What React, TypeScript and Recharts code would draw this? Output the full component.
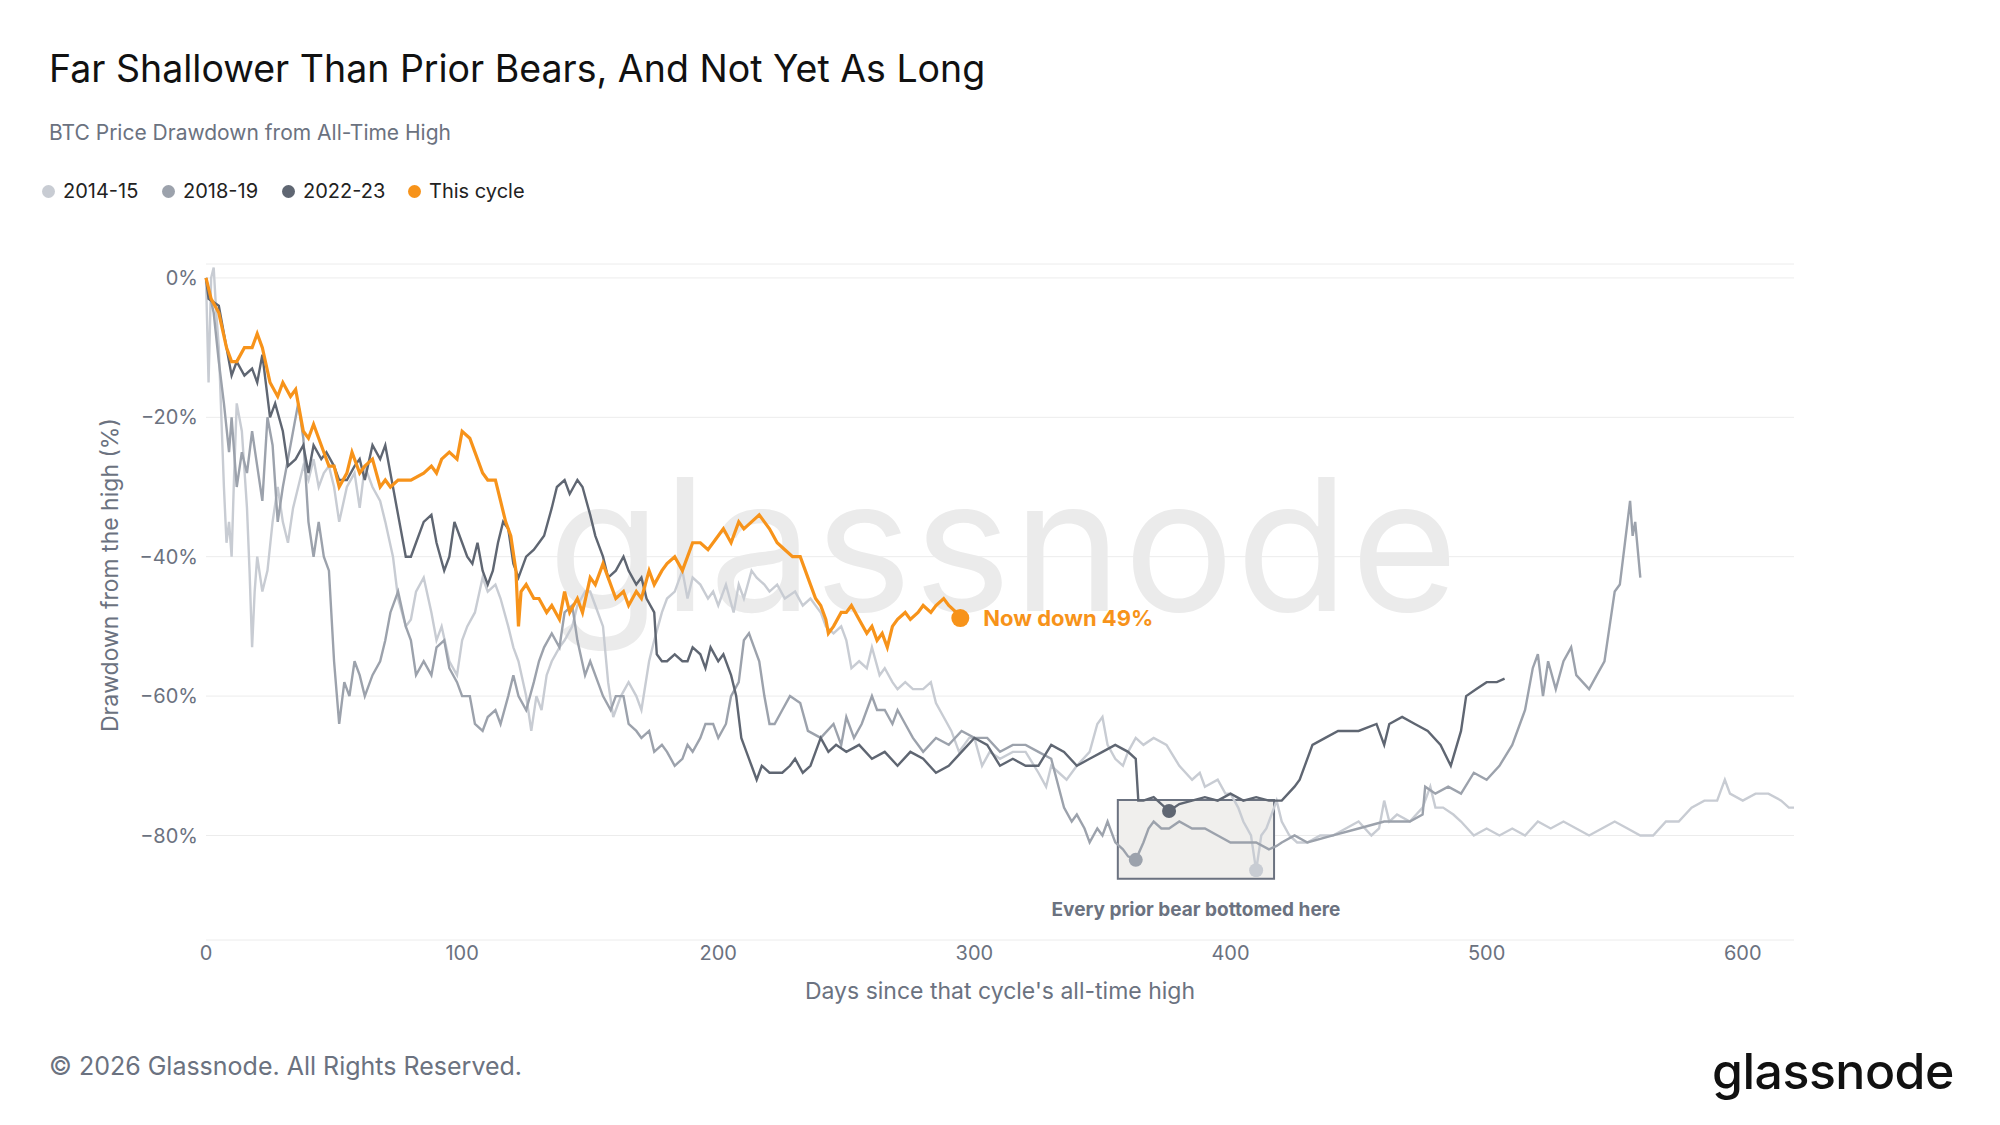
import React from "react";
import { LineChart, Line, XAxis, YAxis, CartesianGrid, ReferenceArea, ReferenceDot } from "recharts";

const days2014 = [0,1,2,3,4,5,6,7,8,9,10,11,12,14,16,17,18,19,20,22,24,26,28,30,32,34,36,38,40,42,44,46,48,50,52,55,58,60,62,65,68,70,73,75,78,80,82,85,88,90,92,95,98,100,102,105,108,110,113,115,118,120,122,125,127,129,131,133,135,138,140,143,145,148,150,152,155,157,159,162,165,168,170,173,175,178,180,183,186,188,190,193,196,198,200,203,206,208,210,213,215,218,220,223,226,230,233,236,240,242,245,248,250,252,255,258,260,263,265,268,270,273,276,280,283,285,288,291,294,296,298,300,303,306,310,315,320,325,328,330,333,336,340,345,348,350,352,355,358,360,363,366,370,375,380,385,388,390,395,398,400,403,405,408,410,412,414,416,418,420,423,426,430,435,440,445,450,455,458,460,462,465,470,475,478,480,483,487,490,495,500,505,510,515,520,525,530,535,540,545,550,555,560,565,570,575,580,585,590,593,595,600,605,610,615,618,620];
const vals2014 = [0,-15,0,1.5,-5,-10,-20,-30,-38,-35,-40,-28,-18,-22,-33,-42,-53,-45,-40,-45,-42,-35,-30,-35,-38,-33,-30,-27,-29,-26,-30,-28,-27,-30,-35,-30,-28,-33,-27,-30,-32,-35,-40,-46,-50,-49,-45,-43,-48,-52,-50,-55,-57,-52,-50,-48,-43,-45,-44,-46,-50,-53,-55,-60,-65,-60,-62,-57,-55,-53,-52,-50,-47,-45,-45,-47,-50,-58,-63,-60,-58,-60,-62,-55,-52,-48,-46,-45,-42,-46,-43,-44,-46,-45,-47,-44,-48,-44,-46,-42,-43,-44,-45,-44,-46,-45,-47,-46,-48,-50,-51,-50,-52,-56,-55,-56,-53,-57,-56,-58,-59,-58,-59,-59,-58,-61,-63,-65,-68,-67,-66,-66,-70,-68,-69,-68,-68,-71,-73,-70,-71,-72,-70,-68,-64,-63,-67,-69,-70,-68,-66,-67,-66,-67,-70,-72,-71,-73,-72,-74,-74,-76,-78,-80,-85,-80,-79,-77,-75,-78,-80,-81,-81,-80,-80,-79,-78,-80,-79,-75,-78,-77,-78,-76,-73,-76,-76,-77,-78,-80,-79,-80,-79,-80,-78,-79,-78,-79,-80,-79,-78,-79,-80,-80,-78,-78,-76,-75,-75,-72,-74,-75,-74,-74,-75,-76,-76];

const days2018 = [0,3,5,7,9,10,12,14,16,18,20,22,24,26,28,30,32,34,36,38,40,42,44,46,48,50,52,54,56,58,60,62,65,68,70,72,75,78,80,82,85,88,90,93,95,98,100,103,105,108,110,113,115,118,120,122,125,128,130,132,135,138,140,143,145,148,150,153,155,158,160,163,165,168,170,173,175,178,180,183,186,188,190,193,195,198,200,203,205,208,210,212,214,216,218,220,222,225,228,232,235,240,245,248,250,253,256,260,262,265,268,270,273,276,280,285,290,295,300,305,310,315,320,325,330,335,338,340,343,345,348,350,352,355,358,360,363,366,368,370,373,376,380,385,390,395,400,405,410,415,418,420,425,430,440,450,460,470,475,476,480,485,490,495,500,505,510,515,518,520,522,524,527,530,533,535,540,543,546,548,550,552,554,556,557,558,560];
const vals2018 = [0,-5,-12,-18,-25,-20,-30,-25,-28,-22,-27,-32,-20,-24,-35,-30,-26,-22,-18,-23,-35,-40,-35,-40,-42,-55,-64,-58,-60,-55,-57,-60,-57,-55,-52,-48,-45,-50,-52,-57,-55,-57,-53,-52,-56,-58,-60,-60,-64,-65,-63,-62,-64,-60,-57,-60,-62,-58,-55,-53,-51,-53,-48,-47,-52,-57,-55,-58,-60,-62,-60,-60,-64,-65,-66,-65,-68,-67,-68,-70,-69,-67,-68,-66,-64,-64,-66,-64,-60,-58,-52,-51,-53,-55,-60,-64,-64,-62,-60,-61,-65,-66,-64,-67,-63,-66,-64,-60,-62,-62,-64,-62,-64,-66,-68,-66,-67,-65,-66,-66,-68,-67,-67,-68,-69,-76,-78,-77,-79,-81,-79,-80,-78,-81,-82,-83,-83.5,-81,-79,-78,-79,-79,-78,-79,-79,-80,-81,-81,-81,-82,-81.5,-81,-80,-81,-80,-79,-78,-78,-77,-73,-74,-73,-74,-71,-72,-70,-67,-62,-56,-54,-60,-55,-59,-55,-53,-57,-59,-57,-55,-50,-45,-44,-38,-32,-37,-35,-43];

const days2022 = [0,1,5,8,10,12,15,18,20,22,25,27,30,32,35,38,40,42,45,47,50,52,55,58,60,62,65,68,70,73,76,78,80,82,85,88,90,93,95,97,100,102,104,106,108,110,112,114,116,118,120,122,125,128,130,132,135,137,140,142,145,147,150,152,155,157,160,163,165,168,170,172,175,176,178,180,183,186,188,190,193,195,197,200,202,205,207,209,211,213,215,217,220,225,228,230,233,236,240,243,246,250,255,260,265,270,275,280,285,290,295,300,305,310,315,320,325,330,335,340,345,350,355,360,363,364,366,370,376,380,385,390,395,400,405,410,415,420,425,427,432,437,442,450,457,460,462,467,472,477,482,486,490,492,496,500,504,507];
const vals2022 = [0,-3,-4,-10,-14,-12,-14,-13,-15,-11,-20,-18,-22,-27,-26,-24,-28,-24,-26,-25,-27,-29,-29,-27,-26,-29,-24,-26,-24,-30,-36,-40,-40,-38,-35,-34,-38,-42,-40,-35,-38,-40,-41,-38,-42,-44,-42,-38,-35,-36,-41,-43,-40,-39,-38,-37,-33,-30,-29,-31,-29,-30,-34,-37,-40,-43,-42,-40,-42,-44,-43,-46,-48,-54,-55,-55,-54,-55,-55,-53,-54,-56,-53,-55,-54,-57,-60,-66,-68,-70,-72,-70,-71,-71,-70,-69,-71,-70,-66,-68,-67,-68,-67,-69,-68,-70,-68,-69,-71,-70,-68,-66,-67,-70,-69,-70,-70,-67,-68,-70,-69,-68,-67,-68,-69,-75,-75,-74.5,-76.5,-75.5,-75,-74.5,-75,-74,-75,-74.5,-75,-75,-73,-72,-67,-66,-65,-65,-64,-67,-64,-63,-64,-65,-67,-70,-65,-60,-59,-58,-58,-57.5,-58];

const daysNow = [0,2,5,8,10,12,15,18,20,22,25,28,30,33,35,38,40,42,45,48,50,52,55,57,60,62,65,68,70,72,75,80,85,88,90,92,95,98,100,103,105,108,110,113,115,117,119,121,122,123,125,128,130,133,135,138,140,142,145,147,150,152,155,157,160,163,165,168,170,173,175,178,180,183,186,190,193,196,200,202,205,208,210,213,216,218,220,223,226,229,232,234,236,238,240,242,243,245,248,250,252,255,258,260,262,264,266,268,270,273,275,278,280,283,285,288,290,293,294.5];
const valsNow = [0,-3,-5,-10,-12,-12,-10,-10,-8,-10,-15,-17,-15,-17,-16,-22,-23,-21,-24,-27,-27,-30,-28,-25,-28,-27,-26,-30,-29,-30,-29,-29,-28,-27,-28,-26,-25,-26,-22,-23,-25,-28,-29,-29,-32,-35,-37,-42,-50,-45,-44,-46,-46,-48,-47,-49,-45,-48,-46,-48,-43,-44,-41,-43,-46,-45,-47,-45,-46,-42,-44,-42,-41,-40,-42,-38,-38,-39,-37,-36,-38,-35,-36,-35,-34,-35,-36,-38,-39,-40,-40,-42,-44,-46,-47,-49,-51,-50,-48,-48,-47,-49,-51,-50,-52,-51,-53,-50,-49,-48,-49,-48,-47,-48,-47,-46,-47,-48,-48.8];

const xTicks = [0, 100, 200, 300, 400, 500, 600];
const yTicks = [-80, -60, -40, -20, 0];

const toRows = (d: number[], v: number[]) => d.map((day, i) => ({ day, v: v[i] }));
const s2014 = toRows(days2014, vals2014);
const s2018 = toRows(days2018, vals2018);
const s2022 = toRows(days2022, vals2022);
const sNow = toRows(daysNow, valsNow);

const C14 = "#c8ccd3", C18 = "#9ca2ac", C22 = "#5f6672", CNOW = "#f7931a";
const FONT = "Inter, 'Noto Sans', sans-serif";
const GREY = "#6b7280";

const legend = [
  { label: "2014-15", color: C14, x: 42 },
  { label: "2018-19", color: C18, x: 162 },
  { label: "2022-23", color: C22, x: 282 },
  { label: "This cycle", color: CNOW, x: 408 },
];

export default function App() {
  return (
    <div style={{ position: "absolute", left: 0, top: 0, width: 2000, height: 1125, background: "#fff", fontFamily: FONT, overflow: "hidden" }}>
      <div style={{ position: "absolute", left: 49, top: 46, fontSize: 37.5, color: "#111", fontWeight: 400 }}>
        Far Shallower Than Prior Bears, And Not Yet As Long
      </div>
      <div style={{ position: "absolute", left: 49, top: 120, fontSize: 21, color: GREY }}>
        BTC Price Drawdown from All-Time High
      </div>
      {legend.map((l) => (
        <div key={l.label} style={{ position: "absolute", left: l.x, top: 179, fontSize: 20, color: "#222", display: "flex", alignItems: "center" }}>
          <span style={{ width: 13, height: 13, borderRadius: 7, background: l.color, display: "inline-block", marginRight: 8 }} />
          {l.label}
        </div>
      ))}
      <div style={{ position: "absolute", left: 548, top: 433, fontSize: 184, color: "#ebebeb", fontWeight: 400, letterSpacing: 2 }}>
        glassnode
      </div>
      <div style={{ position: "absolute", left: 0, top: 0 }}>
        <LineChart width={2000} height={1125} margin={{ top: 264, right: 206, bottom: 155, left: 126 }}>
          <CartesianGrid horizontal vertical={false} stroke="#ececec" />
          <XAxis type="number" dataKey="day" domain={[0, 620]} ticks={xTicks} axisLine={false} tickLine={false}
            tick={{ fill: GREY, fontSize: 20, fontFamily: FONT }} height={30} tickMargin={0}
            label={{ value: "Days since that cycle's all-time high", position: "insideBottom", offset: -29, fill: GREY, fontSize: 23, fontFamily: FONT }} />
          <YAxis type="number" domain={[-95, 2]} ticks={yTicks} axisLine={false} tickLine={false} width={80}
            tickFormatter={(v: number) => (v === 0 ? "0%" : `−${Math.abs(v)}%`)}
            tick={{ fill: GREY, fontSize: 20, fontFamily: FONT }}
            label={{ value: "Drawdown from the high (%)", angle: -90, position: "insideLeft", offset: -16, dy: 130, fill: GREY, fontSize: 23, fontFamily: FONT }} />
          <ReferenceArea x1={356} x2={417} y1={-86.2} y2={-74.9} fill="#f0efed" fillOpacity={1} stroke={GREY} strokeWidth={2} />
          <Line data={s2014} dataKey="v" stroke={C14} strokeWidth={2.4} dot={false} isAnimationActive={false} />
          <Line data={s2018} dataKey="v" stroke={C18} strokeWidth={2.4} dot={false} isAnimationActive={false} />
          <Line data={s2022} dataKey="v" stroke={C22} strokeWidth={2.4} dot={false} isAnimationActive={false} />
          <Line data={sNow} dataKey="v" stroke={CNOW} strokeWidth={3.2} dot={false} isAnimationActive={false} />
          <ReferenceDot x={363} y={-83.5} r={7} fill={C18} stroke="none" />
          <ReferenceDot x={376} y={-76.5} r={7} fill={C22} stroke="none" />
          <ReferenceDot x={410} y={-85} r={7} fill={C14} stroke="none" />
          <ReferenceDot x={294.5} y={-48.8} r={9} fill={CNOW} stroke="none"
            label={{ value: "Now down 49%", position: "right", offset: 14, fill: CNOW, fontSize: 22, fontWeight: 700, fontFamily: FONT }} />
          <ReferenceDot x={386.5} y={-90.6} r={0} fill="none" stroke="none"
            label={{ value: "Every prior bear bottomed here", position: "center", fill: GREY, fontSize: 19, fontWeight: 700, fontFamily: FONT }} />
        </LineChart>
      </div>
      <div style={{ position: "absolute", left: 49, top: 1051, fontSize: 25, color: GREY }}>
        © 2026 Glassnode. All Rights Reserved.
      </div>
      <div style={{ position: "absolute", left: 1712, top: 1041, fontSize: 50, color: "#111", fontWeight: 500, letterSpacing: -0.5 }}>
        glassnode
      </div>
    </div>
  );
}
